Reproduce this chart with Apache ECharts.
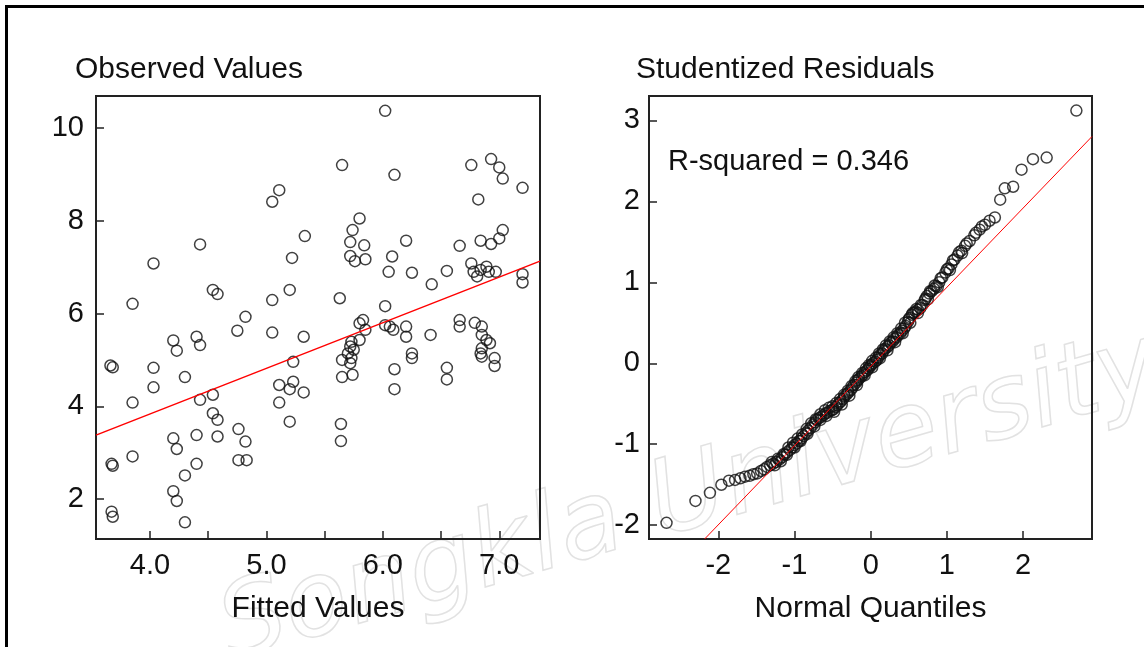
<!DOCTYPE html>
<html>
<head>
<meta charset="utf-8">
<script src="https://cdn.jsdelivr.net/npm/echarts@6/dist/echarts.min.js"></script>
<style>
  html, body { margin: 0; padding: 0; background: #fff; }
  #main { width: 1144px; height: 647px; }
</style>
</head>
<body>
<div id="main"></div>
<script>
// left panel: observed vs fitted
var fittedObserved = [
  [5.11, 8.66], [5.05, 8.41], [4.43, 7.49], [4.03, 7.08], [5.33, 7.67], [5.22, 7.20], [4.54, 6.51], [4.58, 6.42],
  [3.85, 6.21], [5.05, 6.29], [5.20, 6.51], [4.82, 5.93],
  [6.02, 10.37], [5.65, 9.20], [6.10, 8.99], [6.76, 9.20], [6.93, 9.33], [7.00, 9.15], [7.03, 8.91], [7.20, 8.71],
  [6.82, 8.46], [5.80, 8.05], [5.74, 7.80], [5.72, 7.54], [5.84, 7.47], [6.20, 7.57], [6.66, 7.46], [6.84, 7.57],
  [6.93, 7.50], [7.03, 7.80], [7.00, 7.62], [5.72, 7.24], [5.76, 7.13], [5.85, 7.17], [6.08, 7.23], [6.05, 6.90],
  [6.25, 6.88], [6.55, 6.92], [6.42, 6.63], [6.76, 7.08], [6.78, 6.90], [6.84, 6.94], [6.89, 7.01], [6.81, 6.80],
  [6.91, 6.90], [6.97, 6.90], [7.20, 6.85], [7.20, 6.67], [5.63, 6.33], [6.02, 6.16],
  [4.75, 5.63], [5.05, 5.59], [5.32, 5.50], [4.20, 5.42], [4.23, 5.20], [4.40, 5.50], [4.43, 5.32], [3.66, 4.88],
  [3.68, 4.84], [4.03, 4.83], [4.03, 4.41], [4.30, 4.63], [3.85, 4.08], [4.43, 4.14], [4.54, 4.25], [4.54, 3.85],
  [4.58, 3.71], [5.23, 4.96], [5.23, 4.53], [5.20, 4.37], [5.11, 4.46], [5.32, 4.30], [5.11, 4.08], [5.20, 3.67],
  [4.20, 3.31], [4.23, 3.08], [4.40, 3.38], [4.58, 3.35], [4.76, 3.51], [4.82, 3.24], [4.76, 2.84], [4.83, 2.84],
  [3.85, 2.92], [3.67, 2.76], [3.68, 2.72], [4.40, 2.76], [4.30, 2.51], [4.20, 2.17], [4.23, 1.96], [3.67, 1.73],
  [3.68, 1.62], [4.30, 1.50],
  [5.83, 5.86], [5.80, 5.79], [5.85, 5.65], [6.02, 5.75], [6.06, 5.72], [6.09, 5.65], [6.20, 5.72], [6.20, 5.50],
  [6.41, 5.54], [6.66, 5.86], [6.66, 5.72], [6.79, 5.80], [6.85, 5.72], [6.85, 5.54], [6.89, 5.43], [6.92, 5.36],
  [6.85, 5.25], [6.84, 5.14], [6.85, 5.07], [6.96, 5.04], [6.96, 4.87], [5.73, 5.39], [5.72, 5.29], [5.75, 5.22],
  [5.70, 5.14], [5.73, 5.04], [5.72, 4.93], [5.65, 5.00], [5.80, 5.43], [5.65, 4.63], [5.74, 4.68], [6.10, 4.80],
  [6.10, 4.37], [6.25, 5.14], [6.25, 5.04], [6.55, 4.83], [6.55, 4.58], [5.64, 3.62], [5.64, 3.25]
];
var fitLine = [[3.536, 3.38], [7.35, 7.13]];

// right panel: studentized residuals vs normal quantiles
var qqPoints = [
  [-2.68, -1.97], [-2.30, -1.70], [-2.11, -1.60], [-1.96, -1.50], [-1.86, -1.45], [-1.78, -1.44], [-1.71, -1.42],
  [-1.65, -1.40], [-1.59, -1.39], [-1.54, -1.37], [-1.49, -1.36], [-1.44, -1.33], [-1.40, -1.31], [-1.36, -1.28],
  [-1.32, -1.26], [-1.28, -1.24], [-1.24, -1.22], [-1.20, -1.19], [-1.16, -1.16], [-1.13, -1.13], [-1.10, -1.10],
  [-1.06, -1.07], [-1.03, -1.04], [-1.00, -1.01], [-0.97, -0.99], [-0.94, -0.96], [-0.91, -0.93], [-0.88, -0.90],
  [-0.85, -0.86], [-0.82, -0.83], [-0.79, -0.80], [-0.76, -0.76], [-0.73, -0.73], [-0.71, -0.70], [-0.68, -0.68],
  [-0.65, -0.66], [-0.62, -0.64], [-0.59, -0.62], [-0.57, -0.61], [-0.54, -0.59], [-0.51, -0.58], [-0.49, -0.57],
  [-0.46, -0.54], [-0.44, -0.52], [-0.41, -0.49], [-0.39, -0.47], [-0.36, -0.44], [-0.34, -0.41], [-0.31, -0.38],
  [-0.29, -0.36], [-0.26, -0.33], [-0.24, -0.30], [-0.22, -0.27], [-0.19, -0.24], [-0.17, -0.21], [-0.15, -0.19],
  [-0.12, -0.16], [-0.10, -0.14], [-0.08, -0.11], [-0.05, -0.09], [-0.03, -0.07], [-0.01, -0.04], [0.01, -0.02],
  [0.03, 0.00], [0.06, 0.02], [0.08, 0.04], [0.10, 0.07], [0.12, 0.10], [0.15, 0.12], [0.17, 0.15], [0.19, 0.18],
  [0.22, 0.20], [0.24, 0.22], [0.26, 0.25], [0.29, 0.27], [0.31, 0.30], [0.34, 0.32], [0.36, 0.35], [0.39, 0.37],
  [0.41, 0.40], [0.44, 0.43], [0.46, 0.46], [0.49, 0.51], [0.51, 0.56], [0.54, 0.60], [0.57, 0.62], [0.59, 0.64],
  [0.62, 0.66], [0.65, 0.68], [0.68, 0.72], [0.71, 0.78], [0.74, 0.83], [0.77, 0.86], [0.80, 0.89], [0.83, 0.92],
  [0.86, 0.95], [0.90, 1.00], [0.94, 1.06], [0.98, 1.12], [1.02, 1.17], [1.06, 1.22], [1.10, 1.28], [1.14, 1.33],
  [1.19, 1.39], [1.24, 1.45], [1.30, 1.51], [1.36, 1.58], [1.43, 1.65], [1.50, 1.71], [1.56, 1.76], [1.63, 1.80],
  [1.70, 2.02], [1.76, 2.16], [1.87, 2.18], [1.98, 2.39], [2.13, 2.52], [2.31, 2.54], [2.70, 3.12],
  // points that sit just above / below the centre of the dense band
  [-1.30, -1.22], [-1.22, -1.18], [-1.14, -1.12], [-1.08, -1.04], [-1.02, -0.98], [-0.96, -0.93], [-0.90, -0.88],
  [-0.84, -0.81], [-0.78, -0.74], [-0.72, -0.69], [-0.66, -0.63], [-0.60, -0.58], [-0.55, -0.55], [-0.50, -0.53],
  [-0.45, -0.49], [-0.40, -0.44], [-0.35, -0.39], [-0.30, -0.34], [-0.25, -0.28], [-0.20, -0.22], [-0.16, -0.17],
  [-0.11, -0.12], [-0.06, -0.06], [-0.02, -0.02], [0.02, 0.03], [0.07, 0.07], [0.11, 0.12], [0.16, 0.17],
  [0.20, 0.22], [0.25, 0.27], [0.30, 0.32], [0.35, 0.37], [0.40, 0.43], [0.45, 0.50], [0.50, 0.54], [0.55, 0.62],
  [0.60, 0.67], [0.66, 0.72], [0.72, 0.80], [0.78, 0.89], [0.84, 0.96], [0.92, 1.05], [1.00, 1.16], [1.08, 1.27],
  [1.16, 1.37], [1.26, 1.48], [1.38, 1.61], [1.46, 1.69],
  [-1.26, -1.26], [-1.18, -1.21], [-1.10, -1.13], [-1.00, -1.04], [-0.92, -0.96], [-0.83, -0.87], [-0.74, -0.78],
  [-0.66, -0.70], [-0.58, -0.65], [-0.48, -0.60], [-0.38, -0.51], [-0.28, -0.40], [-0.18, -0.27], [-0.08, -0.15],
  [0.02, -0.05], [0.12, 0.06], [0.22, 0.16], [0.32, 0.26], [0.42, 0.37], [0.52, 0.50], [0.62, 0.62], [0.75, 0.79],
  [0.88, 0.94], [1.04, 1.15], [1.20, 1.36]
];
var qqLine = [[-2.18, -2.17], [2.905, 2.80]];

var leftXTicks = [4.0, 4.5, 5.0, 5.5, 6.0, 6.5, 7.0];
var leftXLabels = [4.0, 5.0, 6.0, 7.0];
var leftYTicks = [2, 4, 6, 8, 10];
var rightXTicks = [-2, -1, 0, 1, 2];
var rightYTicks = [-2, -1, 0, 1, 2, 3];
var rSquaredText = 'R-squared = 0.346';

var FONT = 'Liberation Sans';
var chart = echarts.init(document.getElementById('main'));

function valueAxis(gridIndex, min, max, ticks, labels, fmt, opts) {
  return Object.assign({
    type: 'value',
    gridIndex: gridIndex,
    min: min,
    max: max,
    axisLine: { show: true, onZero: false, lineStyle: { color: '#222', width: 2 } },
    axisTick: { show: true, inside: true, length: 8, customValues: ticks, lineStyle: { color: '#222', width: 1.5 } },
    axisLabel: { customValues: labels, formatter: fmt, color: '#111', fontSize: 29, fontFamily: FONT, margin: 12 },
    splitLine: { show: false },
    nameTextStyle: { color: '#111', fontSize: 30, fontFamily: FONT }
  }, opts || {});
}

var circle = {
  type: 'scatter',
  symbol: 'circle',
  symbolSize: 11,
  itemStyle: { color: 'rgba(255,255,255,0)', borderColor: '#111', borderWidth: 1.5 },
  emphasis: { disabled: true },
  z: 3
};

chart.setOption({
  backgroundColor: '#fff',
  animation: false,
  title: [
    { text: 'Observed Values', left: 75, top: 55, padding: 0,
      textStyle: { fontSize: 30, fontWeight: 'normal', color: '#111', fontFamily: FONT } },
    { text: 'Studentized Residuals', left: 636, top: 55, padding: 0,
      textStyle: { fontSize: 30, fontWeight: 'normal', color: '#111', fontFamily: FONT } }
  ],
  grid: [
    { left: 96, top: 96, width: 444, height: 443, show: true, borderColor: '#222', borderWidth: 2, backgroundColor: 'transparent' },
    { left: 649, top: 96, width: 443, height: 443, show: true, borderColor: '#222', borderWidth: 2, backgroundColor: 'transparent' }
  ],
  xAxis: [
    valueAxis(0, 3.536, 7.35, leftXTicks, leftXLabels, function (v) { return v.toFixed(1); },
      { name: 'Fitted Values', nameLocation: 'middle', nameGap: 55 }),
    valueAxis(1, -2.91, 2.905, rightXTicks, rightXTicks, function (v) { return String(v); },
      { name: 'Normal Quantiles', nameLocation: 'middle', nameGap: 55 })
  ],
  yAxis: [
    valueAxis(0, 1.14, 10.69, leftYTicks, leftYTicks, function (v) { return String(v); }),
    valueAxis(1, -2.17, 3.30, rightYTicks, rightYTicks, function (v) { return String(v); }, { axisLabel: {
      customValues: rightYTicks, color: '#111', fontSize: 29, fontFamily: FONT, margin: 9 } })
  ],
  graphic: [
    { type: 'rect', left: 4, top: 4, shape: { width: 1160, height: 660 }, z: -10,
      style: { fill: 'none', stroke: '#000', lineWidth: 3 } },
    { type: 'text', x: 690, y: 500, rotation: 0.28, z: -5,
      style: { text: 'Songkla University', fontSize: 104, fontStyle: 'italic', fontFamily: 'DejaVu Sans',
        align: 'center', verticalAlign: 'middle', fill: 'rgba(255,255,255,0)', stroke: '#e2e2e2', lineWidth: 1.5 } },
    { type: 'text', left: 668, top: 147,
      style: { text: rSquaredText, fontSize: 29, fontFamily: FONT, fill: '#111' } }
  ],
  series: [
    Object.assign({}, circle, { xAxisIndex: 0, yAxisIndex: 0, data: fittedObserved }),
    { type: 'line', xAxisIndex: 0, yAxisIndex: 0, data: fitLine, symbol: 'none', clip: true,
      lineStyle: { color: '#ff0000', width: 1.5 }, z: 4 },
    Object.assign({}, circle, { xAxisIndex: 1, yAxisIndex: 1, data: qqPoints }),
    { type: 'line', xAxisIndex: 1, yAxisIndex: 1, data: qqLine, symbol: 'none', clip: true,
      lineStyle: { color: '#ff0000', width: 1 }, z: 4 }
  ]
});
</script>
</body>
</html>
